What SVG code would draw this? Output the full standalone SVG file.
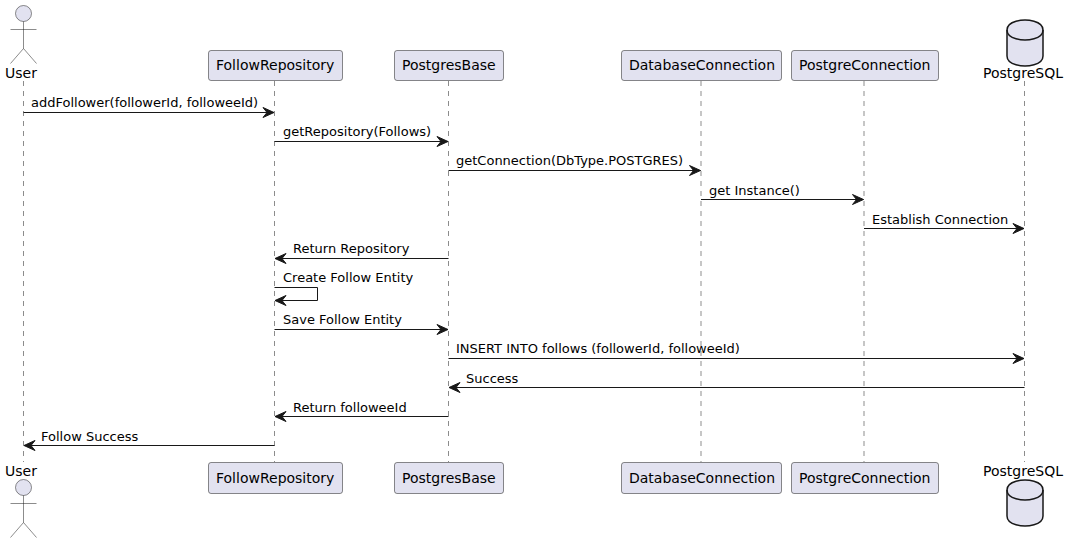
<svg xmlns="http://www.w3.org/2000/svg" width="1068" height="543" viewBox="0 0 1068 543">
<defs>
<marker id="ah" markerUnits="userSpaceOnUse" markerWidth="14" markerHeight="12" refX="12" refY="6" orient="auto"><path d="M1,1 L12,6 L1,11 L5,6 Z" fill="#181818" stroke="#181818" stroke-width="1"/></marker>
<style>
text{font-family:"DejaVu Sans",sans-serif;fill:#000}
.p{font-size:14px}
.m{font-size:13px}
.box{fill:#E2E2F0;stroke:#181818;stroke-width:.5}
.life{stroke:#181818;stroke-width:.5;stroke-dasharray:5,5;fill:none}
.msg{stroke:#181818;stroke-width:1;fill:none;marker-end:url(#ah)}
.act{fill:#E2E2F0;stroke:#181818;stroke-width:.5}
.db{fill:#E2E2F0;stroke:#181818;stroke-width:1.5}
</style>
</defs>
<rect width="1068" height="543" fill="#fff"/>
<g id="lifelines">
<line class="life" x1="23.5" y1="81" x2="23.5" y2="462"/>
<line class="life" x1="274.5" y1="81" x2="274.5" y2="462"/>
<line class="life" x1="448.5" y1="81" x2="448.5" y2="462"/>
<line class="life" x1="701" y1="81" x2="701" y2="462"/>
<line class="life" x1="864" y1="81" x2="864" y2="462"/>
<line class="life" x1="1024.5" y1="81" x2="1024.5" y2="462"/>
</g>
<g id="connectors">
<line class="msg" x1="23.5" y1="112.5" x2="274" y2="112.5"/>
<line class="msg" x1="274.5" y1="141.5" x2="448" y2="141.5"/>
<line class="msg" x1="448.5" y1="170.5" x2="700.5" y2="170.5"/>
<line class="msg" x1="701" y1="199.5" x2="863.5" y2="199.5"/>
<line class="msg" x1="864" y1="228.5" x2="1024" y2="228.5"/>
<line class="msg" x1="448.5" y1="258.5" x2="275" y2="258.5"/>
<path class="msg" d="M274.5,287.5 H317.5 V300.5 H275"/>
<line class="msg" x1="274.5" y1="329.5" x2="448" y2="329.5"/>
<line class="msg" x1="448.5" y1="358.5" x2="1024" y2="358.5"/>
<line class="msg" x1="1024.5" y1="387.5" x2="449" y2="387.5"/>
<line class="msg" x1="448.5" y1="416.5" x2="275" y2="416.5"/>
<line class="msg" x1="274.5" y1="445.5" x2="24" y2="445.5"/>
</g>
<g id="messages">
<text class="m" x="31" y="107">addFollower(followerId, followeeId)</text>
<text class="m" x="283" y="136">getRepository(Follows)</text>
<text class="m" x="456" y="165">getConnection(DbType.POSTGRES)</text>
<text class="m" x="709" y="195">get Instance()</text>
<text class="m" x="872" y="224">Establish Connection</text>
<text class="m" x="293" y="253">Return Repository</text>
<text class="m" x="283" y="282">Create Follow Entity</text>
<text class="m" x="283" y="324">Save Follow Entity</text>
<text class="m" x="456" y="353">INSERT INTO follows (followerId, followeeId)</text>
<text class="m" x="466" y="383">Success</text>
<text class="m" x="293" y="412">Return followeeId</text>
<text class="m" x="41" y="441">Follow Success</text>
</g>
<g id="user-top">
<circle class="act" cx="23.5" cy="13.5" r="8"/>
<path class="act" style="fill:none" d="M23.5,21.5 V48.5 M10.5,29.5 H36.5 M23.5,48.5 L10.5,63.5 M23.5,48.5 L36.5,63.5"/>
<text class="p" x="5" y="78">User</text>
</g>
<g id="followrepository-top"><rect class="box" x="208.5" y="50.5" width="134" height="30" rx="2.5"/><text class="p" x="216" y="70">FollowRepository</text></g>
<g id="postgresbase-top"><rect class="box" x="394.5" y="50.5" width="109" height="30" rx="2.5"/><text class="p" x="402" y="70">PostgresBase</text></g>
<g id="databaseconnection-top"><rect class="box" x="621.5" y="50.5" width="160" height="30" rx="2.5"/><text class="p" x="629" y="70">DatabaseConnection</text></g>
<g id="postgreconnection-top"><rect class="box" x="791.5" y="50.5" width="147" height="30" rx="2.5"/><text class="p" x="799" y="70">PostgreConnection</text></g>
<g id="postgresql-top">
<path class="db" d="M1007,30 C1007,20 1025,20 1025,20 C1025,20 1043,20 1043,30 V56 C1043,66 1025,66 1025,66 C1025,66 1007,66 1007,56 Z"/>
<path class="db" style="fill:none" d="M1007,30 C1007,40 1025,40 1025,40 C1025,40 1043,40 1043,30"/>
<text class="p" x="983" y="78">PostgreSQL</text>
</g>
<g id="user-bottom">
<text class="p" x="5" y="476">User</text>
<circle class="act" cx="23.5" cy="487.5" r="8"/>
<path class="act" style="fill:none" d="M23.5,495.5 V522.5 M10.5,503.5 H36.5 M23.5,522.5 L10.5,537.5 M23.5,522.5 L36.5,537.5"/>
</g>
<g id="followrepository-bottom"><rect class="box" x="208.5" y="462.5" width="134" height="31" rx="2.5"/><text class="p" x="216" y="483">FollowRepository</text></g>
<g id="postgresbase-bottom"><rect class="box" x="394.5" y="462.5" width="109" height="31" rx="2.5"/><text class="p" x="402" y="483">PostgresBase</text></g>
<g id="databaseconnection-bottom"><rect class="box" x="621.5" y="462.5" width="160" height="31" rx="2.5"/><text class="p" x="629" y="483">DatabaseConnection</text></g>
<g id="postgreconnection-bottom"><rect class="box" x="791.5" y="462.5" width="147" height="31" rx="2.5"/><text class="p" x="799" y="483">PostgreConnection</text></g>
<g id="postgresql-bottom">
<text class="p" x="983" y="476">PostgreSQL</text>
<path class="db" d="M1007,490 C1007,480 1025,480 1025,480 C1025,480 1043,480 1043,490 V516 C1043,526 1025,526 1025,526 C1025,526 1007,526 1007,516 Z"/>
<path class="db" style="fill:none" d="M1007,490 C1007,500 1025,500 1025,500 C1025,500 1043,500 1043,490"/>
</g>
</svg>
